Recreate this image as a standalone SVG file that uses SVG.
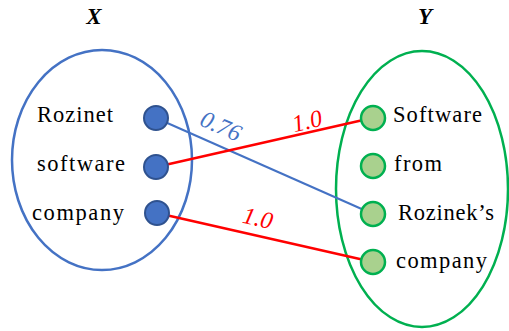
<svg xmlns="http://www.w3.org/2000/svg" width="509" height="331" viewBox="0 0 509 331">
  <style>
    .lbl { font-family: "Liberation Serif", "DejaVu Serif", serif; font-size: 22.5px; fill: #000; }
    .title { font-family: "Liberation Serif", serif; font-size: 23px; font-weight: bold; font-style: italic; fill: #000; }
    .w { font-family: "Liberation Serif", serif; font-size: 24px; font-style: italic; }
    .xn { fill: #4472C4; stroke: #2F528F; stroke-width: 2; }
    .yn { fill: #A9D18E; stroke: #00B050; stroke-width: 2.5; }
    .set { fill: none; stroke-width: 2.5; }
  </style>

  <text class="title" x="94" y="24" text-anchor="middle">X</text>
  <text class="title" x="425" y="24" text-anchor="middle">Y</text>

  <!-- set boundaries -->
  <g id="setX">
    <ellipse class="set" cx="102" cy="160" rx="90" ry="110" stroke="#4472C4"/>
  </g>
  <g id="setY">
    <ellipse class="set" cx="422" cy="189" rx="86" ry="138" stroke="#00B050"/>
  </g>

  <!-- connectors -->
  <g id="connectors">
    <line x1="156" y1="118" x2="373" y2="214" stroke="#4472C4" stroke-width="2"/>
    <line x1="156" y1="167" x2="372" y2="118" stroke="#FF0000" stroke-width="2.5"/>
    <line x1="157" y1="213" x2="373" y2="262" stroke="#FF0000" stroke-width="2.5"/>
    <text class="w" fill="#4472C4" transform="translate(221,126) rotate(24)" text-anchor="middle" dy="8">0.76</text>
    <text class="w" fill="#FF0000" transform="translate(307,121) rotate(-13)" text-anchor="middle" dy="8">1.0</text>
    <text class="w" fill="#FF0000" transform="translate(258,218) rotate(13)" text-anchor="middle" dy="8">1.0</text>
  </g>

  <!-- X nodes -->
  <g id="x-rozinet">
    <circle class="xn" cx="156" cy="118" r="12"/>
    <text class="lbl" x="37" y="122" textLength="76" lengthAdjust="spacing">Rozinet</text>
  </g>
  <g id="x-software">
    <circle class="xn" cx="156" cy="167" r="12"/>
    <text class="lbl" x="37" y="171" textLength="88" lengthAdjust="spacing">software</text>
  </g>
  <g id="x-company">
    <circle class="xn" cx="157" cy="213" r="12"/>
    <text class="lbl" x="32" y="220" textLength="92" lengthAdjust="spacing">company</text>
  </g>

  <!-- Y nodes -->
  <g id="y-software">
    <circle class="yn" cx="373" cy="118" r="12"/>
    <text class="lbl" x="393" y="122" textLength="89" lengthAdjust="spacing">Software</text>
  </g>
  <g id="y-from">
    <circle class="yn" cx="373" cy="166" r="12"/>
    <text class="lbl" x="394" y="171" textLength="48" lengthAdjust="spacing">from</text>
  </g>
  <g id="y-rozineks">
    <circle class="yn" cx="373" cy="214" r="12"/>
    <text class="lbl" x="398" y="220" textLength="96" lengthAdjust="spacing">Rozinek’s</text>
  </g>
  <g id="y-company">
    <circle class="yn" cx="373" cy="262" r="12"/>
    <text class="lbl" x="396" y="268" textLength="91" lengthAdjust="spacing">company</text>
  </g>
</svg>
